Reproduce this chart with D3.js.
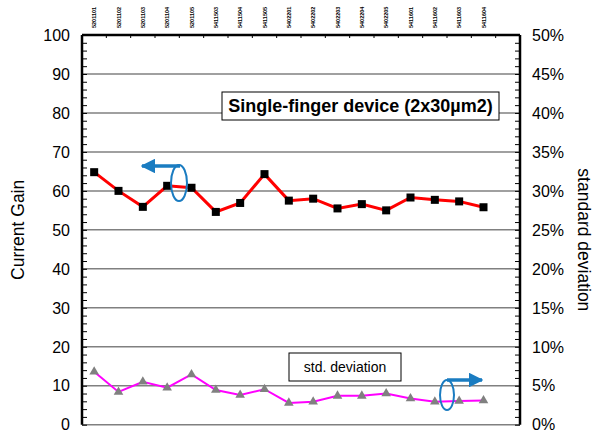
<!DOCTYPE html>
<html>
<head>
<meta charset="utf-8">
<script src="https://cdn.jsdelivr.net/npm/d3@7"></script>
<style>
  body { margin: 0; background: #fff; }
  svg { font-family: Arial, "Liberation Sans", sans-serif; }
</style>
</head>
<body>
<svg id="chart" width="595" height="433"></svg>
<script>
// wafer / device IDs along the top (tiny labels, best guess)
const deviceIds = ["5201101", "5201102", "5201103", "5201104", "5201105",
  "5411503", "5411504", "5411505", "5402201", "5402202", "5402203",
  "5402204", "5402205", "5411601", "5411602", "5411603", "5411604"];
const currentGain = [64.8, 60.0, 55.9, 61.3, 60.8, 54.6, 56.9, 64.3, 57.5,
  58.0, 55.5, 56.6, 55.0, 58.3, 57.7, 57.3, 55.8];
const stdDeviation = [6.8, 4.2, 5.5, 4.75, 6.45, 4.45, 3.8, 4.55, 2.8,
  2.95, 3.7, 3.7, 4.0, 3.35, 2.95, 3.05, 3.1];
const gainTicks = [0, 10, 20, 30, 40, 50, 60, 70, 80, 90, 100];
const pctTicks = [0, 5, 10, 15, 20, 25, 30, 35, 40, 45, 50];

const svg = d3.select("#chart");
const plotLeft = 82, plotRight = 520, plotTop = 35, plotBottom = 424.7;

// one extra empty slot at the end, like the original
const x = d3.scaleBand().domain(d3.range(deviceIds.length + 1)).range([plotLeft, plotRight]);
const yL = d3.scaleLinear().domain([0, 100]).range([plotBottom, plotTop]);
const yR = d3.scaleLinear().domain([0, 50]).range([plotBottom, plotTop]);
const cx = (i) => x(i) + x.bandwidth() / 2;

// gridlines
svg.append("g")
  .selectAll("line")
  .data(gainTicks.slice(0, -1))
  .join("line")
  .attr("x1", plotLeft).attr("x2", plotRight)
  .attr("y1", (d) => yL(d)).attr("y2", (d) => yL(d))
  .attr("stroke", "#808080")
  .attr("stroke-width", 1.5);

// left axis
const leftAxis = svg.append("g").attr("transform", `translate(${plotLeft},0)`);
leftAxis.call(d3.axisRight(yL).tickValues(d3.range(0, 101, 2)).tickSize(5).tickFormat(""));
leftAxis.selectAll(".tick line").attr("stroke", "#000").attr("stroke-width", 1);
leftAxis.select(".domain").attr("stroke", "#000").attr("stroke-width", 2.5).attr("d", `M0,${plotBottom}V${plotTop}`);
leftAxis.selectAll(".lbl")
  .data(gainTicks)
  .join("text")
  .attr("x", -12).attr("y", (d) => yL(d))
  .attr("dy", "0.36em")
  .attr("text-anchor", "end")
  .attr("fill", "#000")
  .attr("font-size", 16)
  .text((d) => d);

// right axis
const rightAxis = svg.append("g").attr("transform", `translate(${plotRight},0)`);
rightAxis.call(d3.axisLeft(yR).tickValues(d3.range(0, 51, 1)).tickSize(5).tickFormat(""));
rightAxis.selectAll(".tick line").attr("stroke", "#000").attr("stroke-width", 1);
rightAxis.select(".domain").attr("stroke", "#000").attr("stroke-width", 2.5).attr("d", `M0,${plotBottom}V${plotTop}`);
rightAxis.selectAll(".lbl")
  .data(pctTicks)
  .join("text")
  .attr("x", 12).attr("y", (d) => yR(d))
  .attr("dy", "0.36em")
  .attr("text-anchor", "start")
  .attr("fill", "#000")
  .attr("font-size", 16)
  .text((d) => d + "%");

// top axis with device IDs
const topAxis = svg.append("g").attr("transform", `translate(0,${plotTop})`);
topAxis.append("line")
  .attr("x1", plotLeft).attr("x2", plotRight)
  .attr("stroke", "#000").attr("stroke-width", 2.5);
topAxis.selectAll(".tk")
  .data(d3.range(1, deviceIds.length + 1))
  .join("line")
  .attr("x1", (i) => x(i)).attr("x2", (i) => x(i))
  .attr("y1", 0).attr("y2", 3)
  .attr("stroke", "#000").attr("stroke-width", 1);
topAxis.selectAll(".id")
  .data(deviceIds)
  .join("text")
  .attr("transform", (d, i) => `translate(${cx(i) + 2},-7) rotate(-90)`)
  .attr("font-size", 5.5)
  .attr("font-weight", "bold")
  .text((d) => d);

// axis titles
svg.append("text")
  .attr("transform", `translate(24,${(plotTop + plotBottom) / 2}) rotate(-90)`)
  .attr("text-anchor", "middle")
  .attr("font-size", 17.5)
  .text("Current Gain");
svg.append("text")
  .attr("transform", `translate(578,${(plotTop + plotBottom) / 2 + 10}) rotate(90)`)
  .attr("text-anchor", "middle")
  .attr("font-size", 17.5)
  .text("standard deviation");

// current gain series
const gainLine = d3.line().x((d, i) => cx(i)).y((d) => yL(d));
svg.append("path")
  .datum(currentGain)
  .attr("d", gainLine)
  .attr("fill", "none")
  .attr("stroke", "#ff0000")
  .attr("stroke-width", 3);
svg.append("g")
  .selectAll("rect")
  .data(currentGain)
  .join("rect")
  .attr("x", (d, i) => cx(i) - 4).attr("y", (d) => yL(d) - 4)
  .attr("width", 8).attr("height", 8)
  .attr("fill", "#000");

// std deviation series
const stdLine = d3.line().x((d, i) => cx(i)).y((d) => yR(d));
svg.append("path")
  .datum(stdDeviation)
  .attr("d", stdLine)
  .attr("fill", "none")
  .attr("stroke", "#ff00ff")
  .attr("stroke-width", 2);
svg.append("g")
  .selectAll("path")
  .data(stdDeviation)
  .join("path")
  .attr("transform", (d, i) => `translate(${cx(i)},${yR(d)})`)
  .attr("d", d3.symbol(d3.symbolTriangle, 40))
  .attr("fill", "#808080");

// text boxes
svg.append("rect")
  .attr("x", 222).attr("y", 92).attr("width", 277).attr("height", 28)
  .attr("fill", "#fff").attr("stroke", "#000").attr("stroke-width", 1);
svg.append("text")
  .attr("x", 360.5).attr("y", 106).attr("dy", "0.36em")
  .attr("text-anchor", "middle")
  .attr("font-size", 18).attr("font-weight", "bold")
  .text("Single-finger device (2x30µm2)");
svg.append("rect")
  .attr("x", 289).attr("y", 353).attr("width", 112).attr("height", 28)
  .attr("fill", "#fff").attr("stroke", "#000").attr("stroke-width", 1);
svg.append("text")
  .attr("x", 345).attr("y", 367).attr("dy", "0.36em")
  .attr("text-anchor", "middle")
  .attr("font-size", 14)
  .text("std. deviation");

// axis indicator arrows
const blue = "#1a7cc1";
svg.append("defs").append("marker")
  .attr("id", "arrow")
  .attr("viewBox", "0 0 10 10")
  .attr("refX", 9).attr("refY", 5)
  .attr("markerWidth", 4.2).attr("markerHeight", 4.2)
  .attr("markerUnits", "strokeWidth")
  .attr("orient", "auto")
  .append("path")
  .attr("d", "M0,0L10,5L0,10Z")
  .attr("fill", blue);

svg.append("ellipse")
  .attr("cx", 179).attr("cy", 183).attr("rx", 8).attr("ry", 18)
  .attr("fill", "none").attr("stroke", blue).attr("stroke-width", 2);
svg.append("line")
  .attr("x1", 180).attr("y1", 166).attr("x2", 142).attr("y2", 166)
  .attr("stroke", blue).attr("stroke-width", 3.5)
  .attr("marker-end", "url(#arrow)");

svg.append("ellipse")
  .attr("cx", 447).attr("cy", 395).attr("rx", 7).attr("ry", 15)
  .attr("fill", "none").attr("stroke", blue).attr("stroke-width", 2);
svg.append("line")
  .attr("x1", 447).attr("y1", 380).attr("x2", 482).attr("y2", 380)
  .attr("stroke", blue).attr("stroke-width", 3.5)
  .attr("marker-end", "url(#arrow)");
</script>
</body>
</html>
